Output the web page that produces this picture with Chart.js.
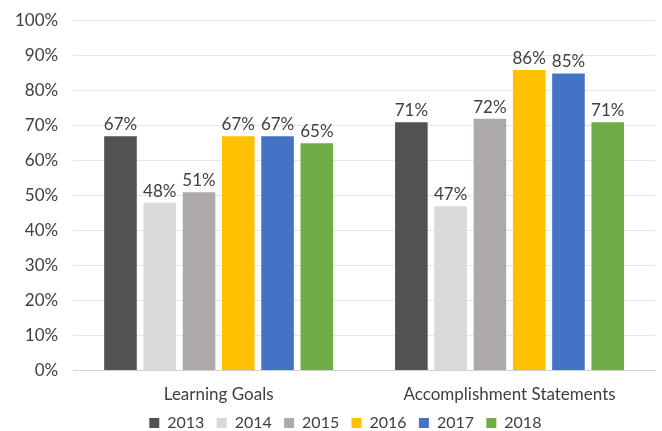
<!DOCTYPE html>
<html>
<head>
<meta charset="UTF-8">
<title>Goals chart</title>
<script src="https://cdn.jsdelivr.net/npm/chart.js@4"></script>
<style>
  body { margin: 0; background: #fff; }
  #wrap { width: 662px; height: 431px; }
</style>
</head>
<body>
<div id="wrap"><canvas id="grafica"></canvas></div>
<script>
var categorias = ["Learning Goals", "Accomplishment Statements"];
var anios = ["2013", "2014", "2015", "2016", "2017", "2018"];
var colores = ["#525252", "#D9D9D9", "#AEAAAA", "#FFC000", "#4472C4", "#70AD47"];
var v2013 = [67, 71];
var v2014 = [48, 47];
var v2015 = [51, 72];
var v2016 = [67, 86];
var v2017 = [67, 85];
var v2018 = [65, 71];
var valores = [v2013, v2014, v2015, v2016, v2017, v2018];
var fuente = "Lato, 'Noto Sans', sans-serif";

// etiquetas encima de cada barra
var etiquetas = {
  id: "etiquetas",
  afterDatasetsDraw: function(chart) {
    var ctx = chart.ctx;
    ctx.save();
    ctx.font = "17px " + fuente;
    ctx.fillStyle = "#404040";
    ctx.textAlign = "center";
    ctx.textBaseline = "bottom";
    chart.data.datasets.forEach(function(ds, i) {
      chart.getDatasetMeta(i).data.forEach(function(bar, j) {
        ctx.fillText(ds.data[j] + "%", bar.x, bar.y - 3);
      });
    });
    ctx.restore();
  }
};

// leyenda mas baja: le quito altura, la subo un poco y la corro a la derecha
var leyendaCorta = {
  id: "leyendaCorta",
  beforeLayout: function(chart) {
    var lg = chart.legend;
    if (lg && !lg._corta) {
      var fitOrig = lg.fit;
      lg.fit = function() {
        fitOrig.call(this);
        this.height -= 12;
      };
      lg._corta = true;
    }
  },
  afterLayout: function(chart) {
    chart.legend.top -= 4;
    chart.legend.bottom -= 4;
    chart.legend.left += 24;
    chart.legend.right += 24;
  }
};

var datasets = [];
for (var a = 0; a < anios.length; a++) {
  datasets.push({
    label: anios[a],
    data: valores[a],
    backgroundColor: colores[a],
    barPercentage: 0.83,
    categoryPercentage: 0.81
  });
}

var chart = new Chart(document.getElementById("grafica").getContext("2d"), {
  type: "bar",
  data: { labels: categorias, datasets: datasets },
  plugins: [etiquetas, leyendaCorta],
  options: {
    responsive: true,
    maintainAspectRatio: false,
    animation: false,
    layout: { padding: { top: 0, right: 7, left: 0, bottom: -2 } },
    plugins: {
      tooltip: { enabled: false },
      legend: {
        position: "bottom",
        labels: {
          boxWidth: 10, boxHeight: 10, padding: 0,
          color: "#404040",
          font: { size: 16, family: fuente },
          generateLabels: function(chart) {
            // espacio extra entre elementos de la leyenda
            var items = Chart.defaults.plugins.legend.labels.generateLabels(chart);
            items.forEach(function(it) { it.text = it.text + "   "; });
            return items;
          }
        }
      }
    },
    scales: {
      x: {
        grid: { display: false, drawTicks: false },
        border: { color: "#D0D0D0" },
        ticks: { color: "#404040", padding: 14, font: { size: 17, family: fuente } }
      },
      y: {
        min: 0, max: 100,
        grid: { color: "#E6E6E6", drawTicks: false },
        border: { display: false },
        ticks: {
          stepSize: 10, padding: 15, color: "#404040",
          font: { size: 17, family: fuente, lineHeight: 0.7 },
          callback: function(v) { return v + "%"; }
        }
      }
    }
  }
});
</script>
</body>
</html>
